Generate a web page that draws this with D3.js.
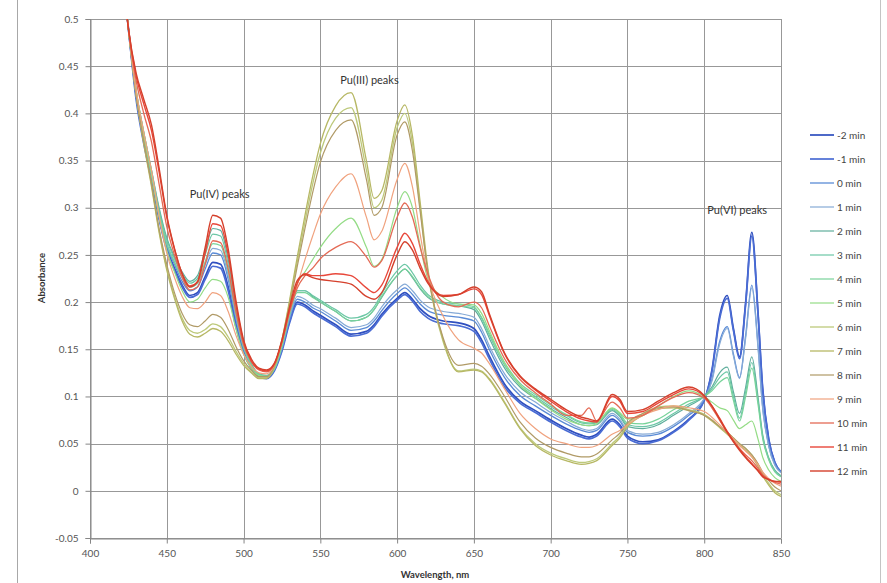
<!DOCTYPE html>
<html><head><meta charset="utf-8">
<script src="https://cdn.jsdelivr.net/npm/d3@7"></script>
<style>
html,body{margin:0;padding:0;background:#fff;}
svg{display:block;font-family:Lato,"Liberation Sans",sans-serif;}
</style></head>
<body><svg id="chart" width="887" height="583"></svg>
<script>
const wavelengths = [
 400,410,420,425,430,435,440,445,450,455,
 460,465,470,475,480,485,490,495,500,505,
 510,515,520,525,530,535,540,545,550,560,
 570,580,585,590,600,605,610,615,620,630,
 640,650,655,660,670,680,690,700,710,720,
 725,730,740,745,750,760,770,780,790,800,
 805,810,815,819,823,827,831,835,838,842,846,850];

const seriesNames = ["-2 min","-1 min","0 min","1 min","2 min","3 min","4 min","5 min","6 min","7 min","8 min","9 min","10 min","11 min","12 min"];
const seriesColors = ["#2f4fbf","#4a6cd4","#5a8bd6","#86aad6","#5fae9c","#6cc7a6","#78d39a","#94dc86","#bdc97a","#b7b865","#b09a66","#f0a27e","#e46a55","#e8473a","#d5402c"];

const sM2 = [
 0.90,0.75,0.57,0.49,0.42,0.372,0.332,0.29,0.257,0.236,
 0.218,0.207,0.21,0.227,0.242,0.24,0.216,0.177,0.148,0.131,
 0.122,0.12,0.128,0.15,0.18,0.2,0.197,0.191,0.186,0.176,
 0.166,0.169,0.176,0.187,0.204,0.21,0.203,0.193,0.186,0.18,
 0.178,0.172,0.16,0.143,0.113,0.095,0.085,0.075,0.066,0.059,
 0.057,0.06,0.076,0.07,0.058,0.052,0.054,0.063,0.076,0.096,
 0.128,0.185,0.207,0.172,0.142,0.2,0.274,0.19,0.11,0.055,0.03,0.02];
const sM1 = [
 0.90,0.75,0.57,0.49,0.415,0.368,0.33,0.288,0.255,0.234,
 0.216,0.205,0.208,0.224,0.238,0.236,0.212,0.174,0.146,0.13,
 0.121,0.119,0.127,0.148,0.178,0.198,0.195,0.189,0.184,0.174,
 0.164,0.167,0.174,0.185,0.202,0.208,0.201,0.19,0.183,0.177,
 0.175,0.169,0.157,0.14,0.11,0.093,0.083,0.073,0.064,0.057,
 0.055,0.058,0.074,0.068,0.056,0.05,0.053,0.062,0.075,0.096,
 0.126,0.182,0.204,0.17,0.14,0.198,0.27,0.188,0.108,0.054,0.03,0.02];
const s0 = [
 0.90,0.75,0.57,0.49,0.42,0.372,0.334,0.292,0.26,0.24,
 0.222,0.212,0.216,0.235,0.252,0.25,0.224,0.182,0.15,0.132,
 0.122,0.12,0.128,0.15,0.182,0.203,0.2,0.194,0.19,0.18,
 0.17,0.173,0.18,0.191,0.209,0.215,0.208,0.198,0.191,0.186,
 0.184,0.18,0.168,0.15,0.12,0.101,0.09,0.08,0.071,0.064,
 0.062,0.064,0.08,0.074,0.062,0.058,0.06,0.068,0.08,0.097,
 0.118,0.158,0.174,0.145,0.12,0.165,0.218,0.155,0.09,0.048,0.028,0.02];
const s1 = [
 0.90,0.75,0.57,0.49,0.422,0.375,0.336,0.295,0.262,0.243,
 0.226,0.216,0.22,0.24,0.257,0.255,0.228,0.185,0.152,0.133,
 0.123,0.121,0.129,0.152,0.184,0.206,0.203,0.197,0.193,0.183,
 0.173,0.176,0.183,0.195,0.213,0.219,0.212,0.202,0.195,0.19,
 0.188,0.184,0.172,0.154,0.124,0.105,0.094,0.083,0.074,0.066,
 0.064,0.066,0.082,0.076,0.064,0.06,0.062,0.07,0.082,0.098,
 0.116,0.155,0.172,0.143,0.119,0.162,0.215,0.152,0.088,0.047,0.027,0.019];
const s2 = [
 0.90,0.75,0.57,0.49,0.425,0.38,0.34,0.3,0.268,0.248,
 0.232,0.222,0.228,0.255,0.278,0.276,0.245,0.195,0.156,0.135,
 0.124,0.122,0.13,0.155,0.188,0.212,0.212,0.206,0.2,0.19,
 0.18,0.184,0.192,0.205,0.228,0.235,0.226,0.214,0.205,0.198,
 0.196,0.192,0.18,0.162,0.13,0.11,0.098,0.087,0.078,0.07,
 0.069,0.07,0.085,0.079,0.068,0.066,0.07,0.08,0.09,0.1,
 0.11,0.125,0.131,0.105,0.082,0.11,0.142,0.1,0.06,0.035,0.022,0.016];
const s3 = [
 0.90,0.75,0.57,0.49,0.425,0.38,0.34,0.298,0.266,0.246,
 0.23,0.22,0.225,0.25,0.272,0.27,0.24,0.192,0.155,0.134,
 0.124,0.122,0.13,0.154,0.188,0.212,0.212,0.207,0.202,0.192,
 0.183,0.187,0.195,0.209,0.233,0.24,0.231,0.218,0.208,0.2,
 0.198,0.195,0.183,0.165,0.133,0.112,0.1,0.089,0.08,0.072,
 0.071,0.072,0.086,0.08,0.07,0.068,0.072,0.082,0.092,0.1,
 0.108,0.12,0.126,0.1,0.077,0.105,0.136,0.096,0.058,0.034,0.021,0.015];
const s4 = [
 0.90,0.75,0.57,0.49,0.422,0.376,0.336,0.294,0.262,0.242,
 0.226,0.216,0.22,0.243,0.262,0.26,0.232,0.188,0.153,0.133,
 0.123,0.121,0.129,0.153,0.187,0.21,0.21,0.205,0.2,0.19,
 0.18,0.184,0.192,0.206,0.228,0.235,0.227,0.215,0.206,0.198,
 0.196,0.194,0.184,0.167,0.136,0.114,0.102,0.091,0.081,0.073,
 0.072,0.073,0.087,0.082,0.072,0.071,0.076,0.086,0.095,0.1,
 0.106,0.115,0.12,0.096,0.074,0.1,0.13,0.092,0.056,0.033,0.02,0.015];
const s5 = [
 0.90,0.75,0.57,0.49,0.425,0.378,0.336,0.29,0.255,0.232,
 0.212,0.2,0.203,0.215,0.224,0.222,0.205,0.172,0.145,0.13,
 0.122,0.121,0.13,0.155,0.19,0.22,0.232,0.245,0.258,0.278,
 0.289,0.258,0.238,0.245,0.3,0.317,0.3,0.26,0.225,0.205,
 0.198,0.197,0.188,0.17,0.135,0.112,0.098,0.086,0.076,0.07,
 0.069,0.071,0.088,0.083,0.076,0.08,0.09,0.1,0.106,0.1,
 0.094,0.088,0.085,0.075,0.066,0.07,0.074,0.055,0.036,0.022,0.014,0.01];
const s6 = [
 0.90,0.75,0.57,0.49,0.42,0.37,0.325,0.276,0.236,0.206,
 0.183,0.17,0.167,0.171,0.177,0.174,0.163,0.148,0.135,0.126,
 0.12,0.12,0.132,0.16,0.2,0.243,0.285,0.325,0.358,0.395,
 0.406,0.34,0.3,0.308,0.385,0.4,0.368,0.3,0.232,0.158,
 0.127,0.129,0.127,0.119,0.094,0.067,0.05,0.04,0.034,0.03,
 0.031,0.034,0.05,0.058,0.07,0.082,0.089,0.09,0.086,0.081,
 0.075,0.068,0.062,0.056,0.05,0.045,0.038,0.028,0.018,0.008,0.0,-0.004];
const s7 = [
 0.90,0.75,0.57,0.49,0.42,0.368,0.323,0.274,0.234,0.204,
 0.18,0.166,0.163,0.167,0.172,0.169,0.159,0.145,0.133,0.125,
 0.119,0.119,0.131,0.16,0.202,0.248,0.292,0.333,0.368,0.408,
 0.422,0.35,0.31,0.318,0.392,0.409,0.376,0.306,0.236,0.16,
 0.126,0.128,0.126,0.118,0.093,0.066,0.048,0.038,0.032,0.028,
 0.029,0.032,0.048,0.056,0.068,0.08,0.087,0.088,0.085,0.08,
 0.074,0.067,0.06,0.054,0.048,0.043,0.036,0.026,0.016,0.006,-0.002,-0.006];
const s8 = [
 0.90,0.75,0.57,0.49,0.42,0.37,0.326,0.278,0.24,0.21,
 0.188,0.176,0.174,0.18,0.187,0.184,0.171,0.153,0.138,0.128,
 0.121,0.121,0.132,0.158,0.196,0.238,0.278,0.316,0.348,0.382,
 0.393,0.33,0.292,0.3,0.377,0.391,0.36,0.296,0.232,0.162,
 0.133,0.135,0.132,0.124,0.1,0.073,0.056,0.046,0.04,0.036,
 0.036,0.039,0.054,0.061,0.072,0.082,0.088,0.089,0.085,0.08,
 0.075,0.068,0.062,0.056,0.05,0.045,0.038,0.029,0.02,0.011,0.004,0.0];
const s9 = [
 0.90,0.75,0.57,0.49,0.425,0.38,0.34,0.292,0.252,0.226,
 0.206,0.194,0.193,0.2,0.21,0.207,0.19,0.165,0.145,0.132,
 0.125,0.124,0.133,0.158,0.19,0.218,0.245,0.27,0.293,0.322,
 0.336,0.29,0.266,0.275,0.33,0.347,0.322,0.272,0.228,0.185,
 0.16,0.151,0.146,0.135,0.108,0.082,0.066,0.055,0.05,0.046,
 0.046,0.048,0.06,0.064,0.07,0.08,0.086,0.09,0.088,0.084,
 0.078,0.07,0.062,0.055,0.048,0.042,0.036,0.028,0.02,0.013,0.008,0.005];
const s10 = [
 0.90,0.75,0.57,0.49,0.435,0.4,0.37,0.325,0.28,0.25,
 0.226,0.213,0.216,0.24,0.265,0.263,0.235,0.19,0.155,0.137,
 0.128,0.126,0.134,0.158,0.19,0.215,0.228,0.236,0.246,0.258,
 0.264,0.248,0.237,0.244,0.29,0.305,0.29,0.258,0.23,0.2,
 0.195,0.2,0.194,0.175,0.14,0.118,0.104,0.092,0.08,0.08,
 0.088,0.074,0.094,0.088,0.077,0.08,0.09,0.099,0.104,0.098,
 0.088,0.075,0.062,0.053,0.045,0.038,0.032,0.024,0.017,0.012,0.009,0.007];
const s11 = [
 0.90,0.75,0.57,0.49,0.44,0.41,0.382,0.338,0.29,0.256,
 0.23,0.217,0.221,0.252,0.283,0.281,0.25,0.198,0.158,0.138,
 0.129,0.127,0.134,0.158,0.192,0.22,0.23,0.228,0.228,0.23,
 0.228,0.215,0.21,0.218,0.258,0.273,0.262,0.24,0.222,0.207,
 0.208,0.214,0.208,0.186,0.145,0.121,0.107,0.095,0.084,0.076,
 0.074,0.073,0.1,0.095,0.082,0.084,0.093,0.102,0.108,0.1,
 0.09,0.077,0.063,0.053,0.044,0.036,0.029,0.022,0.016,0.012,0.01,0.009];
const s12 = [
 0.90,0.75,0.57,0.49,0.443,0.415,0.388,0.342,0.292,0.257,
 0.23,0.216,0.222,0.258,0.292,0.289,0.256,0.202,0.16,0.14,
 0.13,0.128,0.135,0.16,0.195,0.223,0.229,0.226,0.224,0.222,
 0.219,0.206,0.203,0.21,0.25,0.264,0.255,0.236,0.22,0.206,
 0.208,0.216,0.211,0.188,0.146,0.122,0.108,0.097,0.086,0.078,
 0.076,0.074,0.102,0.097,0.084,0.086,0.095,0.104,0.11,0.101,
 0.09,0.076,0.062,0.052,0.043,0.035,0.028,0.021,0.015,0.012,0.01,0.01];

const seriesValues = [sM2,sM1,s0,s1,s2,s3,s4,s5,s6,s7,s8,s9,s10,s11,s12];
const seriesWidths = [1.7,1.7,1.3,1.2,1.2,1.2,1.2,1.2,1.3,1.3,1.2,1.2,1.3,1.4,1.4];

const yTicks = [-0.05,0,0.05,0.1,0.15,0.2,0.25,0.3,0.35,0.4,0.45,0.5];
const yTickLabels = ["-0.05","0","0.05","0.1","0.15","0.2","0.25","0.3","0.35","0.4","0.45","0.5"];
const xTicks = [400,450,500,550,600,650,700,750,800,850];
const annotations = [
  {text:"Pu(IV) peaks", wl:465, v:0.31},
  {text:"Pu(III) peaks", wl:563, v:0.431},
  {text:"Pu(VI) peaks", wl:802, v:0.293}
];

const svg = d3.select("#chart");
const L = 90, R = 781, T = 19, B = 538;
const x = d3.scaleLinear().domain([400,850]).range([L,R]);
const y = d3.scaleLinear().domain([-0.05,0.5]).range([B,T]);

svg.append("line").attr("x1",17.5).attr("x2",17.5).attr("y1",0).attr("y2",583).attr("stroke","#a8a8a8");
svg.append("line").attr("x1",880.5).attr("x2",880.5).attr("y1",0).attr("y2",583).attr("stroke","#c4c4c4");

const grid = svg.append("g");
grid.selectAll(".hg").data(yTicks).enter().append("line")
  .attr("x1",L).attr("x2",R).attr("y1",d=>Math.round(y(d))+0.5).attr("y2",d=>Math.round(y(d))+0.5)
  .attr("stroke","#989898").attr("stroke-width",1);
grid.selectAll(".vg").data(xTicks).enter().append("line")
  .attr("x1",d=>Math.round(x(d))+0.5).attr("x2",d=>Math.round(x(d))+0.5).attr("y1",T).attr("y2",B)
  .attr("stroke","#989898").attr("stroke-width",1);

const yAxis = d3.axisLeft(y).tickValues(yTicks).tickSize(5).tickPadding(7)
  .tickFormat((d,i)=>yTickLabels[i]);
const gy = svg.append("g").attr("transform",`translate(${L+0.5},0)`).call(yAxis);
const xAxis = d3.axisBottom(x).tickValues(xTicks).tickSize(5).tickPadding(6).tickFormat(d3.format("d"));
const gx = svg.append("g").attr("transform",`translate(0,${B+0.5})`).call(xAxis);
[gx,gy].forEach(g=>{
  g.select(".domain").attr("stroke","#868686");
  g.selectAll(".tick line").attr("stroke","#868686");
  g.selectAll(".tick text").attr("fill","#555").style("font-size","10px").style("font-family","Lato, 'Liberation Sans', sans-serif");
});

svg.append("text").attr("x",435).attr("y",578).attr("text-anchor","middle")
  .style("font-size","9.5px").style("font-weight","bold").attr("fill","#333").text("Wavelength, nm");
svg.append("text").attr("transform","translate(45,278) rotate(-90)").attr("text-anchor","middle")
  .style("font-size","9.5px").style("font-weight","bold").attr("fill","#333").text("Absorbance");

svg.append("clipPath").attr("id","plotclip").append("rect").attr("x",L).attr("y",T).attr("width",R-L).attr("height",B-T);

const line = d3.line().x(d=>x(d[0])).y(d=>y(d[1])).curve(d3.curveMonotoneX);
const lines = svg.append("g").attr("clip-path","url(#plotclip)");
seriesValues.forEach((vals,i)=>{
  const pts = wavelengths.map((w,j)=>[w,vals[j]]).filter(p=>p[1]!==undefined);
  lines.append("path").datum(pts).attr("d",line).attr("fill","none")
    .attr("stroke",seriesColors[i]).attr("stroke-width",seriesWidths[i]).attr("stroke-linejoin","round");
});

svg.selectAll(".ann").data(annotations).enter().append("text")
  .attr("x",d=>x(d.wl)).attr("y",d=>y(d.v)).attr("fill","#333").style("font-size","11px").text(d=>d.text);

const lg = svg.append("g");
seriesNames.forEach((n,i)=>{
  const yy = 135 + i*24;
  lg.append("line").attr("x1",810).attr("x2",834).attr("y1",yy).attr("y2",yy)
    .attr("stroke",seriesColors[i]).attr("stroke-width",seriesWidths[i]);
  lg.append("text").attr("x",837).attr("y",yy+3.5).attr("fill","#444").style("font-size","10px").text(n);
});
</script></body></html>
